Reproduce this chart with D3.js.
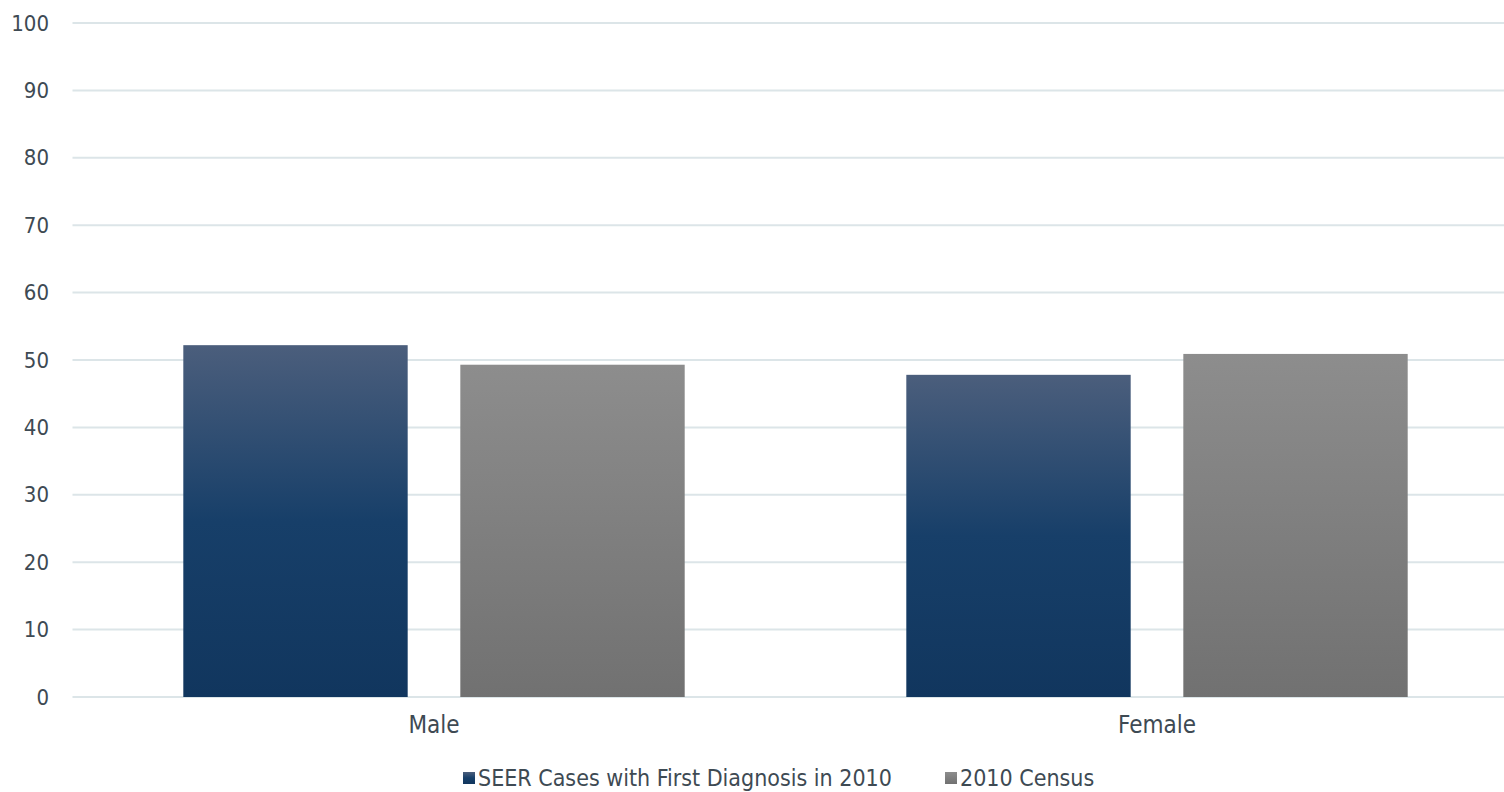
<!DOCTYPE html>
<html>
<head>
<meta charset="utf-8">
<script src="https://cdn.jsdelivr.net/npm/d3@7"></script>
<style>
  body { margin: 0; background: #fff; }
  text { font-family: "Liberation Sans Narrow", "DejaVu Sans Condensed", "Open Sans", sans-serif; fill: #3e4a53; }
</style>
</head>
<body>
<div id="chart"></div>
<script>
  const categories = ["Male", "Female"];
  const seriesNames = ["SEER Cases with First Diagnosis in 2010", "2010 Census"];
  const seerValues = [52.2, 47.8];
  const censusValues = [49.3, 50.9];
  const yTicks = [0, 10, 20, 30, 40, 50, 60, 70, 80, 90, 100];

  const size = {
      width: 1504,
      height: 792,
      left: 72.5,
      right: 1518.5,
      top: 23,
      bottom: 697
  };

  let svgContainer = d3.select("#chart")
      .append("svg")
      .attr("width", size.width)
      .attr("height", size.height);

  // gradients, one per series, per-bar bounding box
  let defs = svgContainer.append("defs");
  let gSeer = defs.append("linearGradient").attr("id", "gradSeer")
      .attr("x1", 0).attr("y1", 0).attr("x2", 0).attr("y2", 1);
  gSeer.append("stop").attr("offset", "0%").attr("stop-color", "#4b5e7c");
  gSeer.append("stop").attr("offset", "50%").attr("stop-color", "#173f69");
  gSeer.append("stop").attr("offset", "100%").attr("stop-color", "#11365e");
  let gCensus = defs.append("linearGradient").attr("id", "gradCensus")
      .attr("x1", 0).attr("y1", 0).attr("x2", 0).attr("y2", 1);
  gCensus.append("stop").attr("offset", "0%").attr("stop-color", "#8d8d8d");
  gCensus.append("stop").attr("offset", "100%").attr("stop-color", "#717171");

  const fills = ["url(#gradSeer)", "url(#gradCensus)"];

  let data = categories.map((c, i) => ({
      category: c,
      values: [seerValues[i], censusValues[i]]
  }));

  let x0 = d3.scaleBand()
      .domain(categories)
      .range([size.left, size.right]);

  let x1 = d3.scaleBand()
      .domain(seriesNames)
      .range([0, x0.bandwidth()])
      .paddingInner(0.19)
      .paddingOuter(0.4);

  let yScale = d3.scaleLinear()
      .domain([0, 100])
      .range([size.bottom, size.top]);

  // gridlines
  svgContainer.append("g")
      .selectAll("line")
      .data(yTicks)
      .enter()
      .append("line")
      .attr("x1", size.left)
      .attr("x2", size.width)
      .attr("y1", d => yScale(d))
      .attr("y2", d => yScale(d))
      .attr("stroke", "#dce5e8")
      .attr("stroke-width", 2);

  // y axis labels
  let yAxis = d3.axisLeft(yScale).tickValues(yTicks).tickSize(0).tickPadding(0);
  let yG = svgContainer.append("g")
      .attr("transform", "translate(49, 0)")
      .call(yAxis);
  yG.select(".domain").remove();
  yG.attr("font-family", null);
  yG.selectAll("text")
      .style("font-size", "22px")
      .attr("fill", "#3e4a53");

  // bars
  let groups = svgContainer.selectAll(".group")
      .data(data)
      .enter()
      .append("g")
      .attr("class", "group")
      .attr("transform", d => "translate(" + x0(d.category) + ",0)");

  groups.selectAll("rect")
      .data(d => d.values.map((v, i) => ({ series: seriesNames[i], value: v, idx: i })))
      .enter()
      .append("rect")
      .attr("x", d => x1(d.series))
      .attr("y", d => yScale(d.value))
      .attr("width", x1.bandwidth())
      .attr("height", d => size.bottom - yScale(d.value))
      .attr("fill", d => fills[d.idx]);

  // x axis labels
  let xAxis = d3.axisBottom(x0).tickSize(0).tickPadding(0);
  let xG = svgContainer.append("g")
      .attr("transform", "translate(0, 716)")
      .call(xAxis);
  xG.select(".domain").remove();
  xG.attr("font-family", null);
  xG.selectAll("text")
      .style("font-size", "24px")
      .attr("fill", "#3e4a53");

  // legend
  const legendX = [463, 945];
  let legend = svgContainer.selectAll(".legend")
      .data(seriesNames)
      .enter()
      .append("g")
      .attr("class", "legend")
      .attr("transform", (d, i) => "translate(" + legendX[i] + ", 778)");

  legend.append("rect")
      .attr("x", 0)
      .attr("y", -6)
      .attr("width", 12)
      .attr("height", 12)
      .attr("fill", (d, i) => fills[i]);

  legend.append("text")
      .attr("x", 15)
      .attr("y", 0)
      .attr("dy", "0.35em")
      .style("font-size", "23px")
      .text(d => d);
</script>
</body>
</html>
